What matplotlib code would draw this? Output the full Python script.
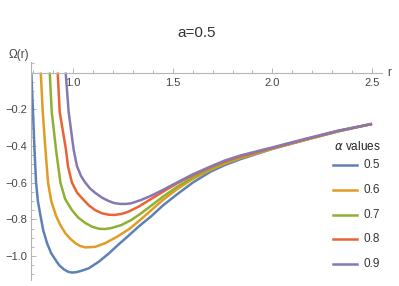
import matplotlib
matplotlib.use("Agg")
import matplotlib.pyplot as plt
from matplotlib.lines import Line2D
from matplotlib.ticker import MultipleLocator, FixedLocator

plt.rcParams['font.family'] = ['Liberation Sans', 'DejaVu Sans']

title = "a=0.5"
alpha_labels = ["0.5", "0.6", "0.7", "0.8", "0.9"]
colors = ["#5E81B5", "#E19C24", "#8FB032", "#EB6235", "#8778B3"]

r_05 = [0.790, 0.798, 0.806, 0.814, 0.823, 0.836, 0.850, 0.869, 0.890, 0.911, 0.930, 0.953, 0.975, 0.994,
        1.015, 1.040, 1.078, 1.13, 1.18, 1.23, 1.28, 1.33, 1.39, 1.45, 1.52, 1.60, 1.69, 1.76, 1.84,
        2.0, 2.17, 2.33, 2.5]
w_05 = [0.0, -0.20, -0.42, -0.60, -0.70, -0.78, -0.86, -0.93, -0.985, -1.02, -1.05, -1.072, -1.086, -1.09,
        -1.088, -1.081, -1.067, -1.03, -0.985, -0.935, -0.887, -0.838, -0.785, -0.725, -0.665, -0.600, -0.540, -0.505, -0.472,
        -0.416, -0.366, -0.321, -0.28]

r_06 = [0.8375, 0.8475, 0.861, 0.874, 0.890, 0.914, 0.935, 0.961, 0.985, 1.011, 1.035, 1.061, 1.11, 1.161,
        1.22, 1.285, 1.34, 1.39, 1.45, 1.52, 1.60, 1.69, 1.76, 1.84, 2.0, 2.17, 2.33, 2.5]
w_06 = [0.0, -0.215, -0.42, -0.60, -0.70, -0.78, -0.83, -0.876, -0.905, -0.93, -0.945, -0.953, -0.950, -0.93,
        -0.895, -0.85, -0.80, -0.752, -0.695, -0.637, -0.580, -0.530, -0.497, -0.466, -0.415, -0.365, -0.320, -0.28]

r_07 = [0.8825, 0.8925, 0.914, 0.936, 0.960, 0.994, 1.025, 1.061, 1.095, 1.128, 1.16, 1.19, 1.24, 1.29,
        1.34, 1.39, 1.45, 1.52, 1.60, 1.69, 1.76, 1.84, 2.0, 2.17, 2.33, 2.5]
w_07 = [0.0, -0.215, -0.42, -0.60, -0.69, -0.75, -0.79, -0.82, -0.84, -0.851, -0.853, -0.848, -0.832, -0.805,
        -0.768, -0.727, -0.677, -0.624, -0.572, -0.522, -0.490, -0.461, -0.413, -0.364, -0.319, -0.28]

r_08 = [0.9225, 0.9325, 0.964, 0.974, 0.994, 1.020, 1.053, 1.080, 1.111, 1.145, 1.178, 1.21, 1.245, 1.278,
        1.33, 1.39, 1.45, 1.52, 1.60, 1.69, 1.76, 1.84, 2.0, 2.17, 2.33, 2.5]
w_08 = [0.0, -0.215, -0.42, -0.51, -0.60, -0.655, -0.695, -0.725, -0.75, -0.767, -0.775, -0.776, -0.770, -0.758,
        -0.730, -0.690, -0.650, -0.605, -0.560, -0.515, -0.485, -0.457, -0.411, -0.363, -0.318, -0.28]

r_09 = [0.9625, 0.9775, 1.0025, 1.019, 1.040, 1.061, 1.085, 1.111, 1.145, 1.178, 1.205, 1.235, 1.265, 1.29,
        1.34, 1.39, 1.45, 1.52, 1.60, 1.69, 1.76, 1.84, 2.0, 2.17, 2.33, 2.5]
w_09 = [0.0, -0.215, -0.42, -0.51, -0.565, -0.60, -0.632, -0.656, -0.682, -0.700, -0.711, -0.716, -0.716, -0.713,
        -0.695, -0.672, -0.640, -0.600, -0.555, -0.512, -0.480, -0.452, -0.408, -0.360, -0.317, -0.28]

series_r = [r_05, r_06, r_07, r_08, r_09]
series_w = [w_05, w_06, w_07, w_08, w_09]

W, H = 399, 286
fig = plt.figure(figsize=(W / 100, H / 100), dpi=100)
left_px, right_px, top_px, bot_px = 31.3, 382.0, 61.5, 279.9
ax = fig.add_axes([left_px / W, 1 - bot_px / H, (right_px - left_px) / W, (bot_px - top_px) / H])

for r, w, c in zip(series_r, series_w, colors):
    ax.plot(r, w, color=c, lw=1.8, solid_joinstyle='round', solid_capstyle='butt')

ax.set_xlim(0.79, 2.55)
ax.set_ylim(-1.13, 0.06)

axis_col = "#b5b5b5"
for s in ['top', 'right']:
    ax.spines[s].set_visible(False)
ax.spines['bottom'].set_position(('data', 0))
ax.spines['left'].set_position(('data', 0.79))
for s in ['bottom', 'left']:
    ax.spines[s].set_color(axis_col)
    ax.spines[s].set_linewidth(0.8)

ax.xaxis.set_major_locator(FixedLocator([1.0, 1.5, 2.0, 2.5]))
ax.xaxis.set_minor_locator(MultipleLocator(0.1))
ax.yaxis.set_major_locator(FixedLocator([-1.0, -0.8, -0.6, -0.4, -0.2]))
ax.yaxis.set_minor_locator(MultipleLocator(0.05))
ax.xaxis.set_major_formatter(plt.FuncFormatter(lambda v, p: f"{v:.1f}"))
ax.yaxis.set_major_formatter(plt.FuncFormatter(lambda v, p: f"\u2212{abs(v):.1f}"))
ax.tick_params(axis='both', which='both', direction='in', color=axis_col, width=0.7,
               labelcolor="#444444", labelsize=8)
ax.tick_params(axis='both', which='major', length=3.5)
ax.tick_params(axis='both', which='minor', length=2)
ax.tick_params(axis='x', which='major', pad=4)
ax.tick_params(axis='y', which='major', pad=3)

def fx(px):
    return px / W

def fy(py):
    return 1 - py / H

fig.text(fx(197), fy(33), title, ha='center', va='center', fontsize=11, color="#333333")
fig.text(fx(19), fy(55), "\u03a9(r)", ha='center', va='center', fontsize=8.5, color="#444444")
fig.text(fx(387), fy(73), "r", ha='left', va='center', fontsize=8.5, color="#444444")

# legend
fig.text(fx(357), fy(147), r"$\alpha$ values", ha='center', va='center', fontsize=8.5, color="#222222")
ys = [165, 190, 214.5, 239, 264]
for lab, c, yy in zip(alpha_labels, colors, ys):
    fig.add_artist(Line2D([fx(333), fx(357)], [fy(yy), fy(yy)], color=c, lw=1.8, transform=fig.transFigure))
    fig.text(fx(363), fy(yy), lab, ha='left', va='center', fontsize=8.5, color="#333333")

fig.savefig("out.png", dpi=100)
